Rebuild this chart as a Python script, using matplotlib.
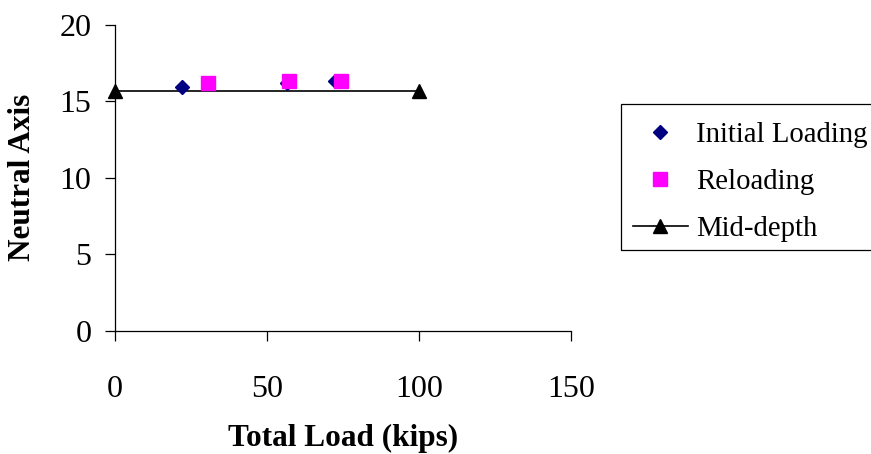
import matplotlib.pyplot as plt
from matplotlib.patches import Rectangle
import numpy as np

# Valeurs
initial_load = [22.2, 56.5, 72.4]
initial_na = [15.95, 16.2, 16.35]
reload_load = [30.7, 57.1, 74.2]
reload_na = [16.2, 16.35, 16.35]
mid_load = [0, 100]
mid_na = [15.7, 15.7]

plt.rcParams['font.family'] = ['Liberation Serif', 'DejaVu Serif']

fig = plt.figure(figsize=(8.71, 4.54), dpi=100)
ax = fig.add_axes([115 / 871, 1 - 330.5 / 454, 456 / 871, 305.5 / 454])

ax.plot(mid_load, mid_na, color='black', lw=1.2, marker='^', ms=10.5,
        clip_on=False, label='Mid-depth', zorder=2)
ax.plot(initial_load, initial_na, ls='none', marker='D', ms=7, color='#000080',
        label='Initial Loading', zorder=3)
ax.plot(reload_load, reload_na, ls='none', marker='s', ms=10, color='#FF00FF',
        label='Reloading', zorder=4)

ax.set_xlim(0, 150)
ax.set_ylim(0, 20)
ax.set_xticks([0, 50, 100, 150])
ax.set_yticks([0, 5, 10, 15, 20])
ax.spines['top'].set_visible(False)
ax.spines['right'].set_visible(False)
for s in ['left', 'bottom']:
    ax.spines[s].set_linewidth(0.9)
ax.tick_params(axis='x', direction='out', length=7, width=0.9, labelsize=23, pad=25)
ax.tick_params(axis='y', direction='out', length=7, width=0.9, labelsize=23, pad=10)

ax.set_xlabel('Total Load (kips)', fontsize=22.5, fontweight='bold', va='center')
ax.set_ylabel('Neutral Axis', fontsize=22.5, fontweight='bold', va='center')
ax.xaxis.set_label_coords(0.5, (330.5 - 438) / 305.5)
ax.yaxis.set_label_coords((23 - 115) / 456, 0.5)

h, l = ax.get_legend_handles_labels()
order = [1, 2, 0]
leg = fig.legend([h[i] for i in order], [l[i] for i in order],
                 loc='upper left', bbox_to_anchor=(621 / 871, 1 - 110 / 454),
                 fontsize=20.7, frameon=False, borderaxespad=0,
                 handlelength=1.9, handletextpad=0.3, labelspacing=0.72,
                 borderpad=0.42)

# cadre de la légende (coupé à droite comme dans l'original)
fig.patches.append(Rectangle((621 / 871, 1 - 250 / 454), 320 / 871, 146 / 454,
                             transform=fig.transFigure, fill=False,
                             ec='black', lw=0.9))

fig.savefig('out.png', dpi=100)
